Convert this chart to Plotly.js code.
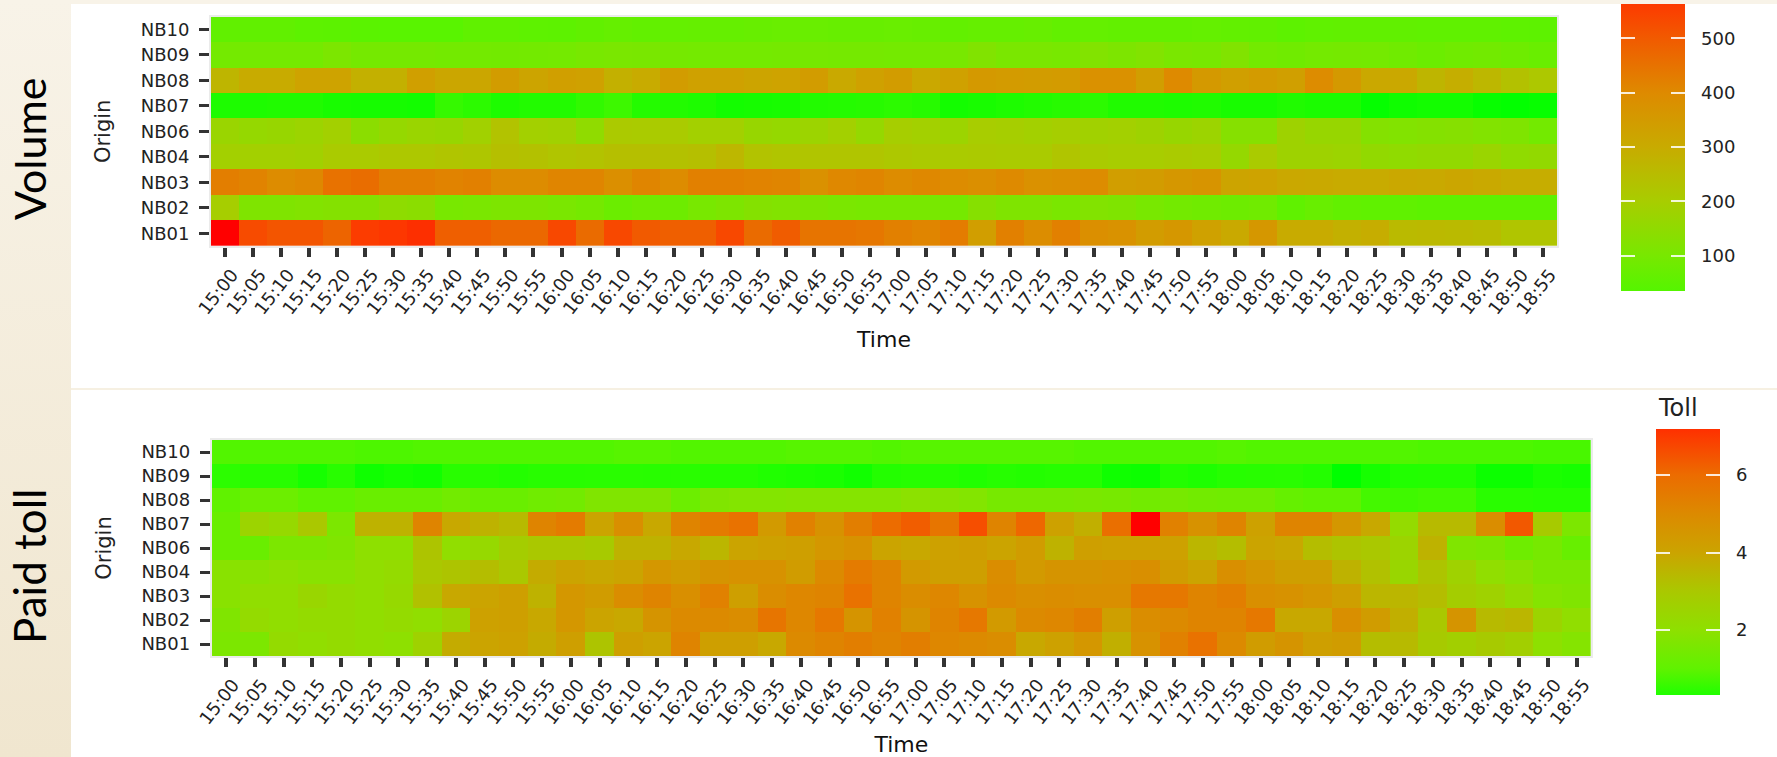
<!DOCTYPE html>
<html>
<head>
<meta charset="utf-8">
<script src="https://cdn.plot.ly/plotly-3.0.1.min.js"></script>
<style>
html,body{margin:0;padding:0;background:#fff;overflow:hidden}
#wrap{position:relative;width:1777px;height:757px;overflow:hidden;background:#fff}
#band{position:absolute;left:0;top:0;width:71px;height:757px;background:linear-gradient(#f8f3e8,#f0e6cf)}
#chart{position:absolute;left:0;top:0;width:1777px;height:757px}
#strip{position:absolute;left:0;top:0;width:1777px;height:4px;background:#f8f3e8}
#sep{position:absolute;left:71px;top:388px;width:1706px;height:2px;background:#f6f0e2}
.cbt{position:absolute;height:2px;width:14px;background:#fff;opacity:.85}
</style>
</head>
<body>
<div id="wrap"><div id="band"></div><div id="sep"></div><div id="chart"></div><div id="strip"></div></div>
<script>
const times = ["15:00","15:05","15:10","15:15","15:20","15:25","15:30","15:35","15:40","15:45","15:50","15:55",
"16:00","16:05","16:10","16:15","16:20","16:25","16:30","16:35","16:40","16:45","16:50","16:55",
"17:00","17:05","17:10","17:15","17:20","17:25","17:30","17:35","17:40","17:45","17:50","17:55",
"18:00","18:05","18:10","18:15","18:20","18:25","18:30","18:35","18:40","18:45","18:50","18:55"];
const origins = ["NB01","NB02","NB03","NB04","NB06","NB07","NB08","NB09","NB10"];

const volNB01 = [600,530,510,510,480,560,565,570,490,490,470,470,535,465,535,500,490,490,535,465,495,445,445,440,420,410,430,340,420,390,420,385,375,345,360,330,305,360,300,300,285,295,255,260,255,250,225,225];
const volNB02 = [195,115,115,120,125,125,145,140,100,105,110,110,105,95,75,85,80,100,110,125,120,110,105,100,100,100,95,130,115,115,105,120,115,100,90,85,80,85,55,70,60,55,55,50,50,50,50,50];
const volNB03 = [425,415,395,405,450,460,425,425,415,420,395,395,410,410,385,410,395,420,420,415,410,380,405,410,395,405,395,385,400,380,385,395,340,345,360,370,320,325,310,305,300,300,310,305,315,305,295,295];
const volNB04 = [190,190,190,185,205,205,215,215,225,220,240,235,225,230,240,240,235,240,265,230,225,225,225,225,215,210,205,210,205,205,225,205,200,200,205,200,160,205,180,180,175,155,150,155,155,170,150,155];
const volNB06 = [170,160,165,175,190,140,160,170,165,185,230,190,185,150,210,205,205,190,190,165,160,175,190,160,195,190,175,200,195,190,195,185,190,180,165,175,130,130,180,165,165,125,120,125,130,120,115,90];
const volNB07 = [12,12,13,13,10,9,9,8,22,18,12,14,14,20,25,15,14,12,8,9,10,14,15,16,18,16,8,10,12,14,16,18,13,13,12,13,10,10,13,11,11,2,6,8,8,3,1,3];
const volNB08 = [270,300,300,325,325,285,285,335,315,315,345,320,335,330,285,300,345,330,330,320,325,345,305,330,345,310,330,355,350,345,350,380,380,340,400,355,335,350,335,395,355,310,310,270,290,265,235,215];
const volNB09 = [92,92,92,92,108,95,95,95,90,90,88,90,92,100,105,102,95,92,92,92,95,97,95,95,92,92,100,118,105,105,100,120,110,120,105,100,118,90,85,92,95,92,85,75,85,88,82,72];
const volNB10 = [58,58,58,50,48,45,42,42,42,55,55,52,50,58,65,60,62,65,65,68,72,72,68,68,72,68,60,65,65,68,60,62,60,60,60,62,60,58,50,55,58,58,58,55,55,55,52,50];

const tollNB01 = [1.6,1.6,2.2,2.1,2.2,2.1,2.0,2.6,3.8,4.0,4.1,3.8,4.2,3.1,4.2,4.0,5.2,4.2,4.2,3.9,5.0,5.2,5.4,5.2,5.4,5.1,5.0,4.9,3.9,4.1,4.5,3.7,4.7,5.3,5.8,5.0,4.3,4.6,4.2,4.3,3.3,3.4,2.9,2.7,2.9,2.7,2.0,1.8];
const tollNB02 = [1.7,2.2,2.1,2.2,2.2,2.1,2.2,2.1,2.5,4.1,4.2,3.9,4.5,4.0,3.9,4.6,5.0,5.0,4.9,5.7,5.1,5.6,4.6,5.3,4.6,5.2,5.6,4.4,5.0,5.1,5.4,4.2,4.9,5.0,5.2,5.2,5.6,3.9,3.9,4.8,4.3,3.7,3.0,4.6,3.4,3.5,2.5,2.1];
const tollNB03 = [1.9,2.1,2.1,2.4,2.2,2.1,2.3,3.2,3.9,4.0,4.2,3.6,4.5,4.3,4.9,5.2,4.8,5.3,4.2,4.9,5.1,5.2,5.8,5.2,4.9,5.1,4.7,5.0,4.8,4.9,4.8,4.8,5.6,5.6,5.2,5.4,4.8,4.7,4.5,4.2,3.5,3.5,3.3,2.8,2.6,2.2,1.8,1.7];
const tollNB04 = [1.9,1.9,2.0,1.9,1.9,2.1,2.2,3.0,3.1,3.3,3.0,3.8,4.0,3.9,4.0,4.5,4.3,4.6,4.7,4.7,4.3,5.0,5.5,5.2,4.4,4.2,4.2,4.9,4.4,4.6,4.6,4.7,4.8,4.3,4.0,4.8,4.5,4.2,4.2,3.6,3.2,2.4,3.1,2.6,2.1,1.9,1.6,1.6];
const tollNB06 = [1.2,1.2,1.6,1.6,1.7,2.0,2.0,3.1,2.1,2.3,2.8,3.0,3.0,2.9,3.6,3.6,3.9,3.5,4.0,4.1,4.2,4.5,4.7,4.0,3.9,4.1,4.2,4.0,4.3,3.6,4.2,4.1,4.1,4.1,3.5,3.3,4.0,3.9,3.3,3.1,3.0,2.5,3.6,1.7,1.6,1.3,1.5,1.15];
const tollNB07 = [1.2,2.5,2.3,3.0,1.6,3.6,3.6,5.2,3.9,3.6,3.4,5.2,5.5,4.0,4.8,3.9,5.2,5.5,5.8,4.4,5.3,4.7,5.4,6.0,6.3,5.7,6.6,5.2,6.1,4.1,3.7,5.9,7.6,5.3,4.7,5.2,4.1,5.2,5.2,4.5,3.9,2.2,3.4,3.4,4.9,6.4,2.9,1.6];
const tollNB08 = [1.0,1.25,1.25,1.0,1.0,1.2,1.2,1.2,1.4,1.2,1.2,1.35,1.4,1.7,1.7,1.7,1.25,1.7,1.75,1.75,1.8,1.8,1.8,1.8,1.95,1.85,1.75,1.5,1.5,1.5,1.55,1.5,1.4,1.5,1.4,1.35,1.35,1.1,1.0,1.0,0.7,0.65,0.7,0.7,0.42,0.42,0.38,0.38];
const tollNB09 = [0.45,0.4,0.4,0.25,0.4,0.2,0.25,0.22,0.4,0.4,0.35,0.4,0.4,0.42,0.42,0.4,0.42,0.38,0.38,0.32,0.3,0.28,0.22,0.35,0.38,0.38,0.32,0.38,0.35,0.38,0.38,0.2,0.18,0.35,0.3,0.38,0.4,0.42,0.35,0.1,0.25,0.33,0.35,0.35,0.18,0.18,0.28,0.25];
const tollNB10 = [0.85,0.85,0.85,0.85,0.85,0.8,0.8,0.85,0.85,0.85,0.85,0.85,0.85,0.85,0.9,0.9,0.85,0.85,0.85,0.85,0.9,0.9,0.9,0.85,0.9,0.9,0.9,0.9,0.9,0.9,0.85,0.85,0.85,0.85,0.85,0.9,0.85,0.85,0.85,0.85,0.85,0.85,0.8,0.8,0.8,0.8,0.75,0.75];

const volZ = [volNB01,volNB02,volNB03,volNB04,volNB06,volNB07,volNB08,volNB09,volNB10];
const tollZ = [tollNB01,tollNB02,tollNB03,tollNB04,tollNB06,tollNB07,tollNB08,tollNB09,tollNB10];

// colour anchors: value, colour
const volAnchors = [[0,"#00ff00"],[35,"#55f500"],[100,"#78e800"],[200,"#a8cd00"],[300,"#c8ab00"],[400,"#de8a00"],[500,"#f15a00"],[563,"#fd3a00"],[600,"#ff0000"]];
const tollAnchors = [[0.1,"#00ff00"],[0.32,"#20ff00"],[1,"#60f200"],[2,"#8ee000"],[3,"#aac800"],[4,"#cba400"],[5,"#dc8a00"],[6,"#ec6c00"],[7.19,"#ff3000"],[7.6,"#ff0000"]];

function hex2rgb(h){return [1,3,5].map(i=>parseInt(h.substr(i,2),16));}
function colorAt(a,v){
  for(let i=1;i<a.length;i++){ if(v<=a[i][0]){
    const f=(v-a[i-1][0])/(a[i][0]-a[i-1][0]), c0=hex2rgb(a[i-1][1]), c1=hex2rgb(a[i][1]);
    return "rgb("+c0.map((c,k)=>Math.round(c+(c1[k]-c)*f)).join(",")+")"; } }
  return a[a.length-1][1];
}
function scaleOver(a,lo,hi){
  const mid=a.filter(s=>s[0]>lo&&s[0]<hi).map(s=>[(s[0]-lo)/(hi-lo),s[1]]);
  return [[0,colorAt(a,lo)],...mid,[1,colorAt(a,hi)]];
}

const W=1777,H=757;
const FONT='"DejaVu Sans", sans-serif';
const TC='#222';

const volBar={min:35,max:563,top:4,bottom:291,left:1621,width:64};
const tollBar={min:0.32,max:7.19,top:429,bottom:695,left:1656,width:64};
const volTicks=[100,200,300,400,500];
const tollTicks=[2,4,6];

function heat(z,anchors,xa,ya){
  const lo=anchors[0][0],hi=anchors[anchors.length-1][0];
  return {type:'heatmap',x:times,y:origins,z:z,xaxis:xa,yaxis:ya,zmin:lo,zmax:hi,
    colorscale:scaleOver(anchors,lo,hi),showscale:false};
}
function legend(bar,anchors,xa,ya,tickvals){
  return {type:'scatter',mode:'markers',x:[null,null],y:[null,null],xaxis:xa,yaxis:ya,showlegend:false,hoverinfo:'skip',
    marker:{color:[bar.min,bar.max],cmin:bar.min,cmax:bar.max,colorscale:scaleOver(anchors,bar.min,bar.max),showscale:true,
      colorbar:{x:bar.left/W,xanchor:'left',xpad:0,ypad:0,y:1-bar.top/H,yanchor:'top',
        len:bar.bottom-bar.top,lenmode:'pixels',thickness:bar.width,thicknessmode:'pixels',
        outlinewidth:0,borderwidth:0,tickvals:tickvals,ticks:'outside',ticklen:13,tickwidth:1,tickcolor:'rgba(255,255,255,0)',
        tickfont:{family:FONT,size:18,color:TC}}}};
}

function xAxis(dom,anchor,standoff){
  return {domain:dom,anchor:anchor,type:'category',tickangle:-52,ticks:'outside',ticklen:9,tickwidth:4,tickcolor:'#333',
    showline:true,mirror:true,linecolor:'#ebebeb',linewidth:2,showgrid:false,zeroline:false,
    tickfont:{family:FONT,size:18,color:TC},automargin:false,tickmode:'array',tickvals:times,ticktext:times,
    ticklabelshift:7,ticklabelstandoff:0,
    title:{text:'Time',font:{family:FONT,size:22,color:'#111'},standoff:standoff}};
}
function yAxis(dom,anchor){
  return {domain:dom,anchor:anchor,type:'category',ticks:'outside',ticklen:10,tickwidth:3,tickcolor:'#333',
    showline:true,mirror:true,linecolor:'#ebebeb',linewidth:2,showgrid:false,zeroline:false,
    tickfont:{family:FONT,size:18,color:TC},automargin:false,ticklabelstandoff:6,
    title:{text:'Origin',font:{family:FONT,size:21,color:TC},standoff:24}};
}

const data=[
  heat(volZ,volAnchors,'x','y'),
  heat(tollZ,tollAnchors,'x2','y2'),
  legend(volBar,volAnchors,'x','y',volTicks),
  legend(tollBar,tollAnchors,'x2','y2',tollTicks)
];
const layout={
  width:W,height:H,margin:{l:0,r:0,t:0,b:0},paper_bgcolor:'rgba(0,0,0,0)',plot_bgcolor:'#fff',showlegend:false,
  xaxis:xAxis([211/W,1557/W],'y',14),
  yaxis:yAxis([1-246/H,1-16.7/H],'x'),
  xaxis2:xAxis([211.7/W,1591/W],'y2',16),
  yaxis2:yAxis([1-656/H,1-440/H],'x2'),
  annotations:[
    {text:'Volume',xref:'paper',yref:'paper',x:29/W,y:1-149/H,textangle:-90,showarrow:false,xanchor:'center',yanchor:'middle',font:{family:'Lato, sans-serif',size:43,color:'#000'}},
    {text:'Paid toll',xref:'paper',yref:'paper',x:29/W,y:1-567/H,textangle:-90,showarrow:false,xanchor:'center',yanchor:'middle',font:{family:'Lato, sans-serif',size:44,color:'#000'}},
    {text:'Toll',xref:'paper',yref:'paper',x:tollBar.left/W,y:1-408/H,showarrow:false,xanchor:'left',yanchor:'middle',font:{family:FONT,size:24,color:TC}}
  ]
};
Plotly.newPlot('chart',data,layout,{displayModeBar:false,staticPlot:true}).then(()=>{
  const wrap=document.getElementById('wrap');
  [[volBar,volTicks],[tollBar,tollTicks]].forEach(([b,vals])=>{
    vals.forEach(v=>{
      [b.left,b.left+b.width-14].forEach(x=>{
        const d=document.createElement('div');d.className='cbt';
        d.style.left=x+'px';
        d.style.top=(b.top+(b.max-v)/(b.max-b.min)*(b.bottom-b.top)-1)+'px';
        wrap.appendChild(d);
      });
    });
  });
});
</script>
</body>
</html>
